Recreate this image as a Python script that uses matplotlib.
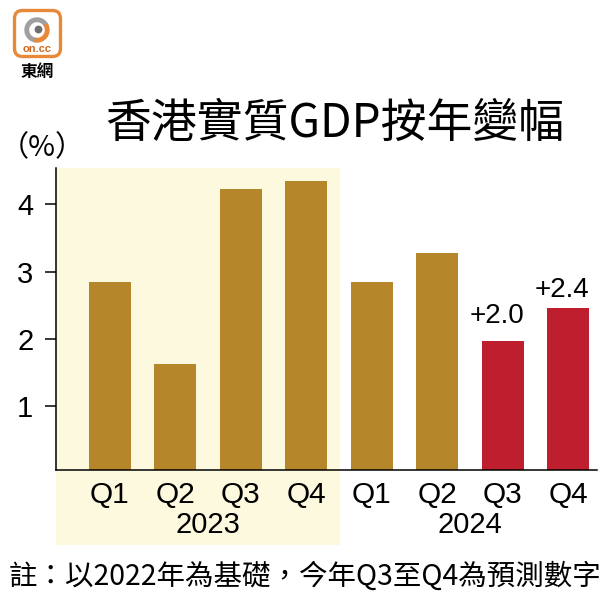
import matplotlib
matplotlib.use("Agg")
import matplotlib.pyplot as plt
from matplotlib.patches import Rectangle, FancyBboxPatch, Wedge, Circle
from matplotlib.transforms import blended_transform_factory

CJK = ["Noto Sans CJK TC", "DejaVu Sans"]
LAT = ["Liberation Sans", "DejaVu Sans"]

quarters = ["Q1", "Q2", "Q3", "Q4", "Q1", "Q2", "Q3", "Q4"]
years = ["2023", "2024"]
growth = [2.84, 1.63, 4.23, 4.35, 2.85, 3.27, 1.97, 2.46]
forecast = [False, False, False, False, False, False, True, True]
forecast_labels = {6: "+2.0", 7: "+2.4"}

title = "香港實質GDP按年變幅"
note = "註：以2022年為基礎，今年Q3至Q4為預測數字"

gold = "#B5862A"
red = "#BE1E2D"
cream = "#FDF9DE"

W, H = 609, 595
fig = plt.figure(figsize=(W / 100, H / 100), dpi=100)
fig.patch.set_facecolor("white")

ax_l, ax_r, ax_t, ax_b = 55.5, 597, 168, 469.5
ax = fig.add_axes([ax_l / W, 1 - ax_b / H, (ax_r - ax_l) / W, (ax_b - ax_t) / H])
ax.patch.set_alpha(0)

x = list(range(len(growth)))
colors = [red if f else gold for f in forecast]
ax.bar(x, growth, width=0.64, color=colors, zorder=2)

ax.set_xlim(-0.83, 7.44)
ax.set_ylim(0.056, 4.54)

# 2023 shaded block, runs down under the year label
tr = blended_transform_factory(ax.transData, ax.transAxes)
ax.add_patch(Rectangle((-0.83, -0.25), 3.52 + 0.83, 1.25, transform=tr,
                       facecolor=cream, edgecolor="none", zorder=0, clip_on=False))

for i, lab in forecast_labels.items():
    dy = 12 if i == 6 else 5
    ax.annotate(lab, (i, growth[i]), xytext=(-6, dy), textcoords="offset pixels",
                ha="center", va="bottom", fontsize=20, family=LAT)

for s in ["top", "right"]:
    ax.spines[s].set_visible(False)
for s in ["left", "bottom"]:
    ax.spines[s].set_linewidth(1.1)
    ax.spines[s].set_zorder(3)

ax.set_yticks([1, 2, 3, 4])
ax.tick_params(axis="y", length=8, width=1.1, pad=8, labelsize=21)
ax.set_xticks(x)
ax.set_xticklabels(quarters)
ax.tick_params(axis="x", length=0, pad=8, labelsize=21.5)
for t in ax.get_xticklabels() + ax.get_yticklabels():
    t.set_family(LAT)

ax.text(1.5, -0.184, years[0], transform=tr, ha="center", va="center", fontsize=21, family=LAT)
ax.text(5.5, -0.184, years[1], transform=tr, ha="center", va="center", fontsize=21, family=LAT)

fig.text(335 / W, 1 - 124 / H, title, ha="center", va="center", fontsize=33,
         family=CJK, weight="medium")
fig.text(0 / W, 1 - 148 / H, "（%）", ha="left", va="center", fontsize=21, family=CJK)
fig.text(305 / W, 1 - 577 / H, note, ha="center", va="center", fontsize=20.5, family=CJK)

# on.cc logo
lg = fig.add_axes([0, 1 - 85 / H, 75 / W, 85 / H])
lg.set_xlim(0, 75)
lg.set_ylim(85, 0)
lg.axis("off")
lg.add_patch(FancyBboxPatch((14.5, 10.5), 46, 46, boxstyle="round,pad=0,rounding_size=8",
                            facecolor="white", edgecolor="#E8893A", linewidth=2.4))
lg.add_patch(Wedge((37, 30), 12, 100, 330, width=3.5, color="#A0A0A0"))
lg.add_patch(Wedge((37, 30), 12, 330, 100, width=3.5, color="#E8893A"))
lg.add_patch(Circle((38.5, 29.5), 3.2, color="#6E6E6E"))
lg.text(37, 48.5, "on.cc", ha="center", va="center", fontsize=8, color="#D2691E",
        weight="bold", family=LAT)
lg.text(37, 72, "東網", ha="center", va="center", fontsize=12, weight="bold", family=CJK)

fig.savefig("out.png", dpi=100)
